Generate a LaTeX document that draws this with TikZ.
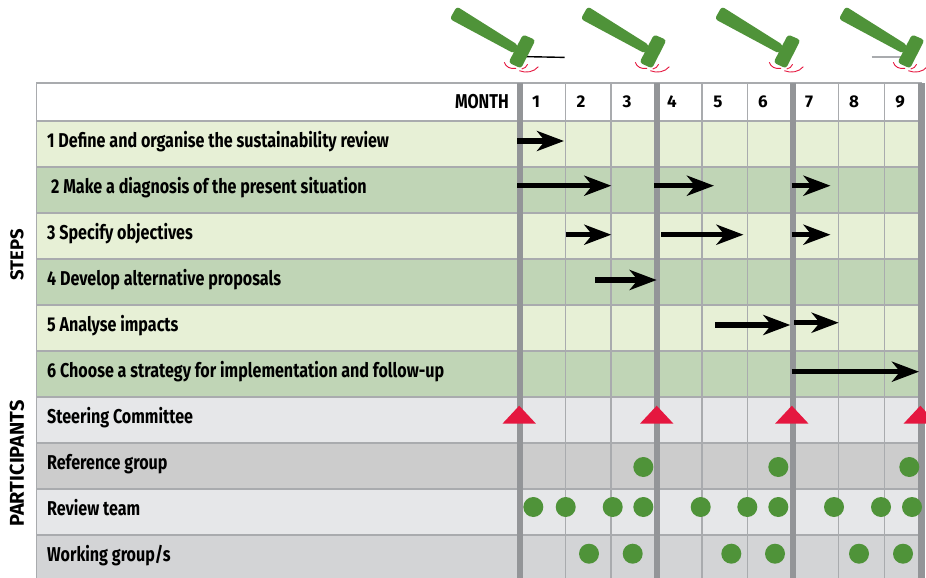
\documentclass[tikz,border=0pt]{standalone}
\usepackage{fontspec}
\setmainfont{Fira Sans}
\newfontfamily\rowfont[FakeStretch=0.805]{Fira Sans}
\usetikzlibrary{arrows.meta}
\definecolor{gridgrey}{HTML}{A9ABAE}
\definecolor{bargrey}{HTML}{939598}
\definecolor{lightgreen}{HTML}{E7F0D6}
\definecolor{darkgreen}{HTML}{C0D5B6}
\definecolor{lightgrey}{HTML}{E6E7E9}
\definecolor{midgrey}{HTML}{CCCCCC}
\definecolor{lastgrey}{HTML}{D3D4D6}
\definecolor{hammergreen}{HTML}{4F9339}
\definecolor{signalred}{HTML}{E5173F}
\tikzstyle{monthrow} = [rectangle, draw=gridgrey, line width=1.1pt, fill=white, minimum width=884.5pt, minimum height=38pt, inner sep=0pt]
\tikzstyle{rowband} = [rectangle, draw=gridgrey, line width=1.1pt, minimum width=884.5pt, minimum height=46pt, inner sep=0pt]
\tikzstyle{rowtext} = [anchor=west, inner sep=0pt, text height=14pt, text depth=4pt, font=\rowfont\fontsize{20}{22}\selectfont\bfseries]
\tikzstyle{monthnum} = [inner sep=0pt, font=\fontsize{17}{20}\selectfont\bfseries]
\tikzstyle{sidetext} = [rotate=90, inner sep=0pt, font=\fontsize{20}{22}\selectfont\bfseries]
\tikzstyle{thinline} = [draw=gridgrey, line width=1.1pt]
\tikzstyle{thickbar} = [draw=bargrey, line width=6.3pt]
\tikzstyle{line} = [draw, line width=5.5pt, -{Stealth[length=27pt,width=20pt,inset=8pt]}]
\tikzstyle{meeting} = [fill=signalred]
\tikzstyle{dot} = [circle, fill=hammergreen, minimum size=20pt, inner sep=0pt]
\tikzstyle{hammer} = [fill=hammergreen, rounded corners=3pt]
\tikzstyle{tremor} = [draw=signalred, line width=0.9pt]

\begin{document}
\begin{tikzpicture}[x=1pt, y=-1pt, node distance=46pt]
      \clip (0,0) rectangle (926,578);
      % Place rows
      \node [monthrow] (month) at (478.75,102) {};
      \node [rowband, fill=lightgreen, below of=month, node distance=42pt] (row1) {};
      \node [rowband, fill=darkgreen, below of=row1] (row2) {};
      \node [rowband, fill=lightgreen, below of=row2] (row3) {};
      \node [rowband, fill=darkgreen, below of=row3] (row4) {};
      \node [rowband, fill=lightgreen, below of=row4] (row5) {};
      \node [rowband, fill=darkgreen, below of=row5] (row6) {};
      \node [rowband, fill=lightgrey, below of=row6] (row7) {};
      \node [rowband, fill=midgrey, below of=row7] (row8) {};
      \node [rowband, fill=lightgrey, below of=row8] (row9) {};
      \node [rowband, fill=lastgrey, below of=row9] (row10) {};

      % Grid
      \foreach \x in {565.7,611,702,747.3,838.7,884.3}
        \path [thinline] (\x,83) -- (\x,578);
      \foreach \x in {520.2,657,793,921.5}
        \path [thickbar] (\x,83) -- (\x,578);

      % Row labels
      \node [rowtext] (text1) at ([xshift=11pt,yshift=2pt]row1.west) {1 Define and organise the sustainability review};
      \node [rowtext] (text2) at ([xshift=15pt,yshift=2pt]row2.west) {2 Make a diagnosis of the present situation};
      \node [rowtext] (text3) at ([xshift=11pt,yshift=2pt]row3.west) {3 Specify objectives};
      \node [rowtext] (text4) at ([xshift=11pt,yshift=2pt]row4.west) {4 Develop alternative proposals};
      \node [rowtext] (text5) at ([xshift=11pt,yshift=2pt]row5.west) {5 Analyse impacts};
      \node [rowtext] (text6) at ([xshift=11pt,yshift=2pt]row6.west) {6 Choose a strategy for implementation and follow-up};
      \node [rowtext] (text7) at ([xshift=11pt,yshift=2pt]row7.west) {Steering Committee};
      \node [rowtext] (text8) at ([xshift=11pt,yshift=2pt]row8.west) {Reference group};
      \node [rowtext] (text9) at ([xshift=11pt,yshift=2pt]row9.west) {Review team};
      \node [rowtext] (text10) at ([xshift=11pt,yshift=2pt]row10.west) {Working group/s};
      \node [rowtext, anchor=east] (monthtext) at (509,103) {MONTH};
      \node [sidetext, font=\fontsize{18.5}{22}\selectfont\bfseries] (steps) at (17,255) {STEPS};
      \node [sidetext] (participants) at (17,463.5) {PARTICIPANTS};
      \foreach \n/\x in {1/536,2/581,3/627,4/672,5/718,6/763,7/809,8/854,9/900}
        \node [monthnum] (num\n) at (\x,102) {\n};

      % Draw arrows
      \foreach \a/\xa/\xb/\y in {a/517/564/141, b/517/611.3/185.7, c/654/714/185.7, d/791.5/830.5/185.7,
          e/565.7/611.3/234.7, f/661/743.5/234.7, g/791.5/830.5/234.7, h/595/656.7/280,
          i/715.3/790.3/325, j/794/838.7/322.7, k/791.5/919/371.7} {
        \coordinate (from\a) at (\xa,\y);
        \coordinate (to\a) at (\xb,\y);
        \path [line] (from\a) -- (to\a);
      }

      % Steering Committee meetings
      \foreach \x in {519.2,656.7,791.8,920.3}
        \path [meeting] (\x,405.7) -- (\x+16.6,423.5) -- (\x-16.6,423.5) -- cycle;

      % Place dots
      \foreach \n/\x in {1/643.3,2/778.3,3/909.3}
        \node [dot] (ref\n) at (\x,467) {};
      \foreach \n/\x in {1/533.3,2/565.7,3/612.7,4/643.3,5/700.7,6/747.3,7/778.3,8/834,9/881,10/912}
        \node [dot] (rev\n) at (\x,507) {};
      \foreach \n/\x in {1/589,2/632.7,3/731.3,4/775,5/859,6/903}
        \node [dot] (work\n) at (\x,553.7) {};

      % Hammers
      \draw [black, line width=1.4pt] (524,56.6) -- (564.7,57.4);
      \draw [gridgrey, line width=1.7pt] (871.7,56.7) -- (905,56.7);
      \foreach \dx in {0,131,265,389} {
        \begin{scope}[xshift=\dx pt]
          \fill [hammer] (449.8,19) -- (456.8,6.5) -- (518,45) -- (514,53.5) -- cycle;
          \fill [hammer] (523,34.5) -- (535.5,40) -- (521,68.5) -- (508.5,62.5) -- cycle;
          \path [tremor] (504.3,62.3) .. controls (505.5,66.5) and (510,69.5) .. (516,68.3);
          \path [tremor] (521.7,69) .. controls (524.5,68.5) and (526.5,67) .. (527.6,64.3);
          \path [tremor] (519.3,70.7) .. controls (526,73.5) and (534,72) .. (538.3,66.7);
        \end{scope}
      }
\end{tikzpicture}
\end{document}
